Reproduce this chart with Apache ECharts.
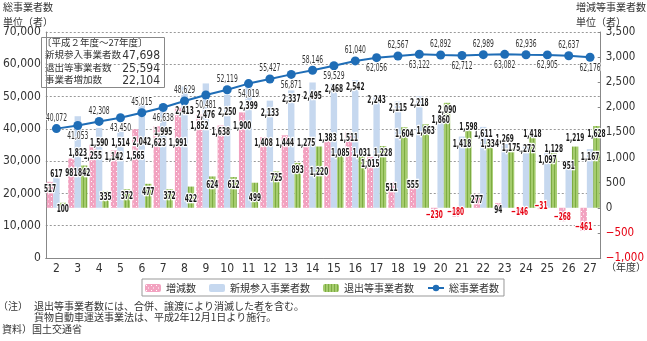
<!DOCTYPE html>
<html><head><meta charset="utf-8">
<script src="https://cdn.jsdelivr.net/npm/echarts@6/dist/echarts.min.js"></script>
<style>html,body{margin:0;padding:0;background:#fff}#c{width:647px;height:341px}</style>
</head><body><div id="c"></div>
<script>
// 年度（平成）
const years = ['2','3','4','5','6','7','8','9','10','11','12','13','14','15','16','17','18','19','20','21','22','23','24','25','26','27'];
// 増減数
const netChange = [517,981,1255,1142,1565,1623,1991,1852,1638,1900,1408,1444,1275,1383,1511,1015,511,555,-230,-180,277,94,-146,-31,-268,-461];
// 新規参入事業者数
const newEntrants = [617,1823,1590,1514,2042,1995,2413,2476,2250,2399,2133,2337,2495,2468,2542,2243,2115,2218,1860,1418,1611,1269,1272,1097,951,1167];
// 退出等事業者数
const exits = [100,842,335,372,477,372,422,624,612,499,725,893,1220,1085,1031,1228,1604,1663,2090,1598,1334,1175,1418,1128,1219,1628];
// 総事業者数
const totalOperators = [40072,41053,42308,43450,45015,46638,48629,50481,52119,54019,55427,56871,58146,59529,61040,62056,62567,63122,62892,62712,62989,63082,62936,62905,62637,62176];

// vertical nudges (px) of each value label from the end of its bar, so crowded labels stay legible
const netLabelDy  = [7,15,11.5,6.5,27,17,35.5,11.5,6.5,13.5,6.5,8,-0.5,0,6.5,7.5,6.5,5.5,-4,-4.5,6.5,7,-3,-3,-4,-3.5];
const newLabelDy  = [-2.5,36.5,15,11.5,37,25,24.5,31.5,17.5,19,12.5,8.5,13.5,5.5,7.5,5,7,6.5,6,7.5,7.5,-4.5,5.5,7,6,7.5];
const exitLabelDy = [6.5,7.5,6.5,7,8,7,13,9,8,15,7,7.5,25.5,-0.5,-3,7,7,6.5,7.5,-0.5,3.5,-0.5,-2.5,-1.5,-8,8];

const NARROW = '"Liberation Sans Narrow","DejaVu Sans Condensed",sans-serif';
const JP = '"Noto Sans CJK JP","Noto Sans",sans-serif';
const BAR_W = 6.4;

function fmt(v) {
  const s = Math.abs(v).toString().replace(/\B(?=(\d{3})+(?!\d))/g, ',');
  return v < 0 ? '\u2212' + s : s;
}

// fill patterns
function dotPattern() {
  const c = document.createElement('canvas');
  c.width = 5; c.height = 5;
  const g = c.getContext('2d');
  g.fillStyle = '#f2a2c0'; g.fillRect(0, 0, 5, 5);
  g.fillStyle = '#ffffff';
  g.fillRect(1, 1, 1, 1);
  g.fillRect(3, 3.5, 1, 1);
  return c;
}
function stripePattern() {
  const c = document.createElement('canvas');
  c.width = 3; c.height = 4;
  const g = c.getContext('2d');
  g.fillStyle = '#a5cc6e'; g.fillRect(0, 0, 3, 4);
  g.fillStyle = '#7dac42'; g.fillRect(2, 0, 1, 4);
  return c;
}
const pinkFill = { image: dotPattern(), repeat: 'repeat' };
const greenFill = { image: stripePattern(), repeat: 'repeat' };
const BLUE_BAR = '#c6d8ef';
const LINE_BLUE = '#1f6db6';

// condensed value labels, drawn as scaled text at the end of each bar
function barLabelSeries(name, values, slot, nudges) {
  return {
    name: name, type: 'custom', yAxisIndex: 1, z: 6, silent: true,
    data: values.map((v, i) => [i, v]),
    renderItem: function (params, api) {
      const i = api.value(0), v = api.value(1);
      const pt = api.coord([i, v]);
      return {
        type: 'text', x: pt[0] + slot * BAR_W, y: pt[1] + nudges[i], scaleX: 0.59,
        style: {
          text: fmt(v), font: 'bold 11px ' + NARROW,
          fill: v < 0 ? '#e60012' : '#1a1a1a', stroke: '#fff', lineWidth: 2.5,
          align: 'center', verticalAlign: 'middle'
        }
      };
    }
  };
}

// totals: labels alternate above and below the markers
function lineLabelSeries(values) {
  return {
    name: 'line-labels', type: 'custom', yAxisIndex: 0, z: 7, silent: true,
    data: values.map((v, i) => [i, v]),
    renderItem: function (params, api) {
      const i = api.value(0), v = api.value(1);
      const pt = api.coord([i, v]);
      return {
        type: 'text', x: pt[0], y: pt[1] + (i % 2 === 0 ? -10.5 : 10.5), scaleX: 0.61,
        style: {
          text: fmt(v), font: '11px ' + NARROW, fill: '#333',
          stroke: '#fff', lineWidth: 2, align: 'center', verticalAlign: 'middle'
        }
      };
    }
  };
}

const txt = (left, top, text, size) => ({
  type: 'text', left: left, top: top,
  style: { text: text, font: size + 'px ' + JP, fill: '#333' }
});

const chart = echarts.init(document.getElementById('c'), null, { renderer: 'canvas' });
chart.setOption({
  animation: false,
  textStyle: { fontFamily: NARROW },
  grid: { left: 38, right: 41, top: 32, bottom: 83 },
  legend: {
    left: 142, top: 279, itemWidth: 16, itemHeight: 8, itemGap: 13,
    padding: [4, 5, 3, 3], borderColor: '#999', borderWidth: 1,
    textStyle: { fontFamily: JP, fontSize: 10, color: '#333' },
    data: ['増減数', '新規参入事業者数', '退出等事業者数', '総事業者数']
  },
  xAxis: {
    type: 'category', data: years,
    axisLine: { lineStyle: { color: '#888', width: 1 } },
    axisTick: { inside: true, length: 4, lineStyle: { color: '#888' } },
    axisLabel: { fontFamily: NARROW, fontSize: 12, color: '#333', margin: 5 }
  },
  yAxis: [
    {
      type: 'value', min: 0, max: 70000, interval: 10000,
      axisLine: { show: true, lineStyle: { color: '#888' } },
      axisTick: { show: false },
      axisLabel: { fontFamily: NARROW, fontSize: 12, color: '#333', margin: 5, formatter: v => fmt(v) },
      splitLine: { show: true, lineStyle: { color: '#999', type: [2, 2], width: 1 } }
    },
    {
      type: 'value', min: -1000, max: 3500, interval: 500,
      axisLine: { show: true, lineStyle: { color: '#888' } },
      axisTick: { show: true, inside: true, length: 3, lineStyle: { color: '#888' } },
      axisLabel: {
        fontFamily: NARROW, fontSize: 11.5, margin: 5, formatter: v => fmt(v),
        color: v => (v < 0 ? '#e60012' : '#333')
      },
      splitLine: { show: false }
    }
  ],
  series: [
    {
      name: '増減数', type: 'bar', yAxisIndex: 1, barWidth: BAR_W, barGap: '0%',
      itemStyle: { color: pinkFill }, data: netChange, z: 2
    },
    {
      name: '新規参入事業者数', type: 'bar', yAxisIndex: 1, barWidth: BAR_W, barGap: '0%',
      itemStyle: { color: BLUE_BAR }, data: newEntrants, z: 2
    },
    {
      name: '退出等事業者数', type: 'bar', yAxisIndex: 1, barWidth: BAR_W, barGap: '0%',
      itemStyle: { color: greenFill }, data: exits, z: 2
    },
    {
      name: '総事業者数', type: 'line', yAxisIndex: 0, symbol: 'circle', symbolSize: 9,
      lineStyle: { color: LINE_BLUE, width: 2 }, itemStyle: { color: LINE_BLUE },
      data: totalOperators, z: 5
    },
    barLabelSeries('net-labels', netChange, -1, netLabelDy),
    barLabelSeries('new-labels', newEntrants, 0, newLabelDy),
    barLabelSeries('exit-labels', exits, 1, exitLabelDy),
    lineLabelSeries(totalOperators)
  ],
  graphic: [
    txt(3, 2, '総事業者数', 10),
    txt(3, 17, '単位（者）', 10),
    txt(576, 2, '増減等事業者数', 10),
    txt(576, 17, '単位（者）', 10),
    txt(606, 262, '（年度）', 10),
    {
      type: 'group', left: 41, top: 37,
      children: [
        { type: 'rect', shape: { x: 0.5, y: 0.5, width: 123, height: 50 }, style: { fill: '#fff', stroke: '#888', lineWidth: 1 } },
        { type: 'text', x: 1, y: 1, style: { text: '〔平成２年度～27年度〕', font: '9.5px ' + JP, fill: '#333' } },
        { type: 'text', x: 4, y: 13, style: { text: '新規参入事業者数', font: '9.5px ' + JP, fill: '#333' } },
        { type: 'text', x: 4, y: 25.5, style: { text: '退出等事業者数', font: '9.5px ' + JP, fill: '#333' } },
        { type: 'text', x: 4, y: 38, style: { text: '事業者増加数', font: '9.5px ' + JP, fill: '#333' } },
        { type: 'text', x: 119, y: 13, style: { text: '47,698', font: '12px ' + NARROW, fill: '#333', align: 'right' } },
        { type: 'text', x: 119, y: 25.5, style: { text: '25,594', font: '12px ' + NARROW, fill: '#333', align: 'right' } },
        { type: 'text', x: 119, y: 38, style: { text: '22,104', font: '12px ' + NARROW, fill: '#333', align: 'right' } }
      ]
    },
    txt(-2, 301, '（注）', 10),
    txt(34, 301, '退出等事業者数には、合併、譲渡により消滅した者を含む。', 10),
    txt(34, 312.5, '貨物自動車運送事業法は、平成2年12月1日より施行。', 10),
    txt(2, 324, '資料）国土交通省', 10)
  ]
});
</script>
</body></html>
